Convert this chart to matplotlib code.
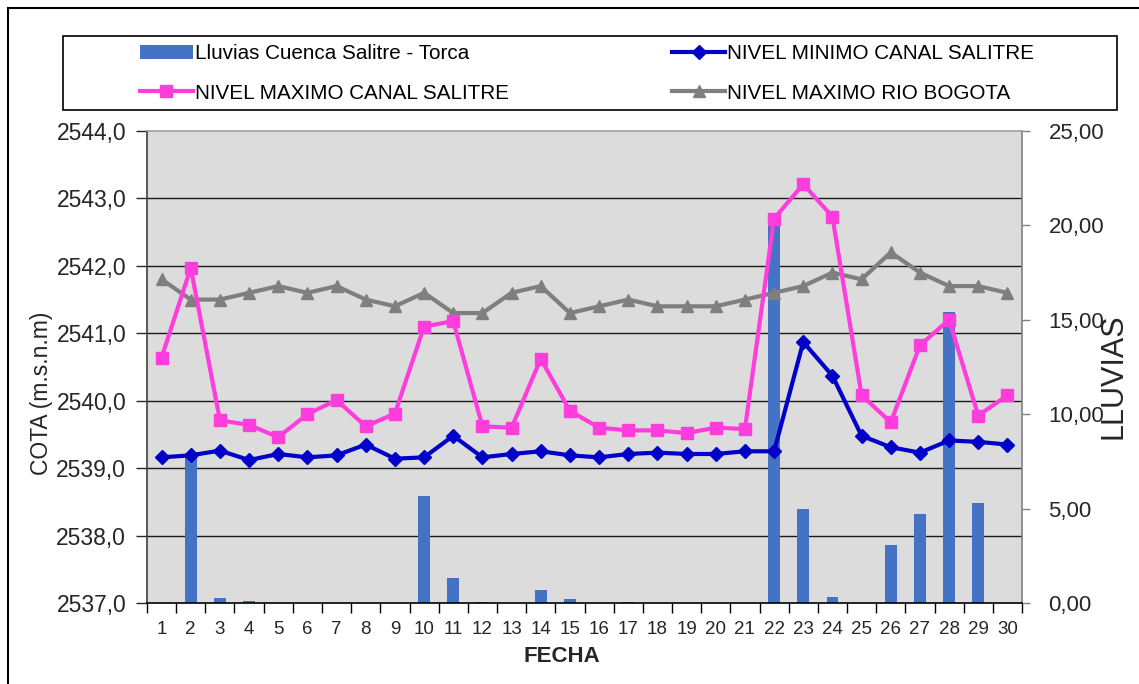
import matplotlib.pyplot as plt
import numpy as np
from matplotlib.patches import Rectangle
from matplotlib.ticker import FixedLocator
from matplotlib import font_manager

# Datos diarios (mes de 30 días)
fechas = list(range(1, 31))
lluvias = [0.0, 7.8, 0.25, 0.1, 0.0, 0.0, 0.0, 0.0, 0.0, 5.67,
           1.34, 0.05, 0.0, 0.69, 0.2, 0.0, 0.05, 0.0, 0.0, 0.0,
           0.0, 20.5, 5.0, 0.34, 0.0, 3.07, 4.7, 15.4, 5.3, 0.0]
nivel_min_salitre = [2539.16, 2539.19, 2539.26, 2539.12, 2539.21, 2539.16, 2539.19, 2539.35, 2539.14, 2539.16,
                     2539.48, 2539.16, 2539.21, 2539.25, 2539.19, 2539.16, 2539.21, 2539.23, 2539.21, 2539.21,
                     2539.25, 2539.25, 2540.87, 2540.37, 2539.48, 2539.31, 2539.23, 2539.41, 2539.39, 2539.35]
nivel_max_salitre = [2540.64, 2541.97, 2539.71, 2539.64, 2539.46, 2539.80, 2540.01, 2539.62, 2539.81, 2541.10,
                     2541.18, 2539.62, 2539.60, 2540.62, 2539.85, 2539.60, 2539.56, 2539.56, 2539.52, 2539.60,
                     2539.58, 2542.70, 2543.21, 2542.73, 2540.08, 2539.68, 2540.82, 2541.20, 2539.78, 2540.08]
nivel_max_bogota = [2541.8, 2541.5, 2541.5, 2541.6, 2541.7, 2541.6, 2541.7, 2541.5, 2541.4, 2541.6,
                    2541.3, 2541.3, 2541.6, 2541.7, 2541.3, 2541.4, 2541.5, 2541.4, 2541.4, 2541.4,
                    2541.5, 2541.6, 2541.7, 2541.9, 2541.8, 2542.2, 2541.9, 2541.7, 2541.7, 2541.6]

cota_ticks = list(range(2537, 2545))
lluvia_ticks = [0, 5, 10, 15, 20, 25]

plt.rcParams['font.family'] = ['Liberation Sans', 'DejaVu Sans']
nombres = {f.name for f in font_manager.fontManager.ttflist}
tiene_narrow = 'Liberation Sans Narrow' in nombres

W, H = 1139, 684
fig = plt.figure(figsize=(W / 100, H / 100), dpi=100, facecolor='white')

# Eje de lluvias (barras, escala derecha) y eje de cotas (líneas, escala izquierda)
ax_bar = fig.add_axes([147 / W, 1 - 603 / H, 875 / W, 472 / H])
ax = ax_bar.twinx()

ax_bar.set_facecolor('#DCDCDC')
ax_bar.set_axisbelow(True)
barras = ax_bar.bar(fechas, lluvias, width=0.4, color='#4472C4', zorder=2,
                    label='Lluvias Cuenca Salitre - Torca')
ax_bar.set_ylim(0, 25)
ax_bar.set_xlim(0.5, 30.5)
ax_bar.yaxis.tick_right()
ax_bar.set_yticks(lluvia_ticks)
ax_bar.set_yticklabels([f"{v:.2f}".replace('.', ',') for v in lluvia_ticks])
ax_bar.tick_params(axis='y', which='major', labelsize=16, length=6, width=1,
                   color='#808080', labelcolor='#262626', pad=13)

# Líneas horizontales de la cuadrícula, alineadas con las cotas
grid_pos = [(c - cota_ticks[0]) / (cota_ticks[-1] - cota_ticks[0]) * 25 for c in cota_ticks]
ax_bar.yaxis.set_minor_locator(FixedLocator(grid_pos[1:-1]))
ax_bar.grid(axis='y', which='minor', color='#1A1A1A', linewidth=1.0)
ax_bar.tick_params(axis='y', which='minor', length=0)

ax_bar.set_xticks(fechas)
ax_bar.set_xticklabels([str(f) for f in fechas])
ax_bar.xaxis.set_minor_locator(FixedLocator(np.arange(0.5, 31, 1)))
ax_bar.tick_params(axis='x', which='major', length=0, labelsize=13.5, pad=13,
                   labelcolor='#262626')
ax_bar.tick_params(axis='x', which='minor', length=7, width=1, color='black')
for s in ax_bar.spines.values():
    s.set_visible(False)

l_bog, = ax.plot(fechas, nivel_max_bogota, color='#7F7F7F', lw=3, marker='^', ms=9,
                 label='NIVEL MAXIMO RIO BOGOTA')
l_max, = ax.plot(fechas, nivel_max_salitre, color='#FF3CDC', lw=3, marker='s', ms=8,
                 label='NIVEL MAXIMO CANAL SALITRE')
l_min, = ax.plot(fechas, nivel_min_salitre, color='#0000C8', lw=3, marker='D', ms=7,
                 label='NIVEL MINIMO CANAL SALITRE')
ax.set_ylim(2537, 2544)
ax.yaxis.tick_left()
ax.set_yticks(cota_ticks)
ax.set_yticklabels([f"{v:.1f}".replace('.', ',') for v in cota_ticks])
ax.tick_params(axis='y', labelsize=16.5, length=8, width=1, color='#262626',
               labelcolor='#262626', pad=7)
ax.spines['left'].set_color('#404040')
ax.spines['bottom'].set_color('black')
ax.spines['right'].set_color('#808080')
ax.spines['top'].set_color('#A0A0A0')
for s in ax.spines.values():
    s.set_linewidth(1.2)

# Títulos de ejes
if tiene_narrow:
    fig.text(43 / W, 1 - 393 / H, 'COTA (m.s.n.m)', rotation=90, ha='center', va='center',
             fontsize=19, family=['Liberation Sans Narrow', 'Liberation Sans'], color='#262626')
else:
    fig.text(42 / W, 1 - 393 / H, 'COTA (m.s.n.m)', rotation=90, ha='center', va='center',
             fontsize=16.5, color='#262626')
fig.text(1114 / W, 1 - 376 / H, 'LLUVIAS', rotation=90, ha='center', va='center',
         fontsize=22, color='#262626')
fig.text(562 / W, 1 - 657 / H, 'FECHA', ha='center', va='center',
         fontsize=16, fontweight='bold', color='#262626')

# Leyenda en recuadro superior
handles = [barras, l_max, l_min, l_bog]
fig.legend(handles, [h.get_label() for h in handles], loc='upper left',
           bbox_to_anchor=(140 / W, 1 - 44 / H), ncol=2, frameon=False,
           fontsize=14.9, handlelength=2.55, handletextpad=0.1, columnspacing=7.9,
           borderpad=0, borderaxespad=0, labelspacing=1.0)
fig.add_artist(Rectangle((63 / W, 1 - 110 / H), (1117 - 63) / W, 74 / H,
                         transform=fig.transFigure, fill=False, ec='black', lw=1.2))

# Marco exterior
fig.add_artist(Rectangle((8 / W, -0.1), 1.2, 1.1 - 8 / H, transform=fig.transFigure,
                         fill=False, ec='black', lw=1.5))

fig.savefig('out.png', dpi=100, facecolor='white')
